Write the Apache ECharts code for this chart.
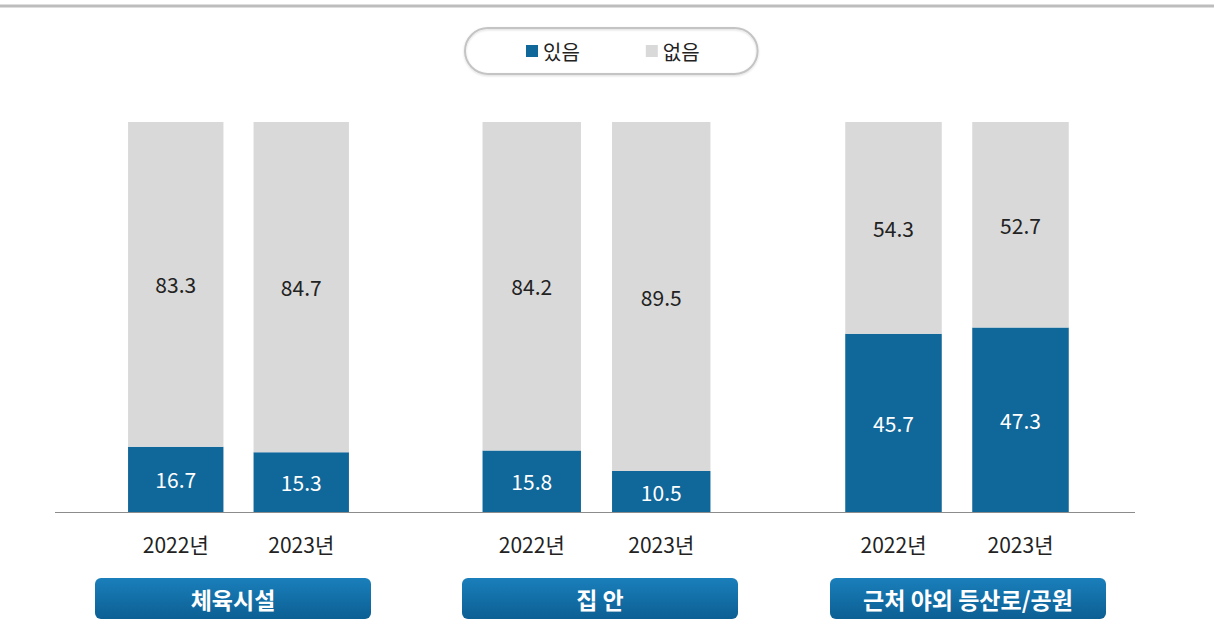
<!DOCTYPE html>
<html>
<head>
<meta charset="UTF-8">
<title>있음 / 없음</title>
<script src="https://cdn.jsdelivr.net/npm/echarts@6/dist/echarts.min.js"></script>
<style>
  html, body { margin: 0; padding: 0; background: #fff; }
  #chartmain { width: 1214px; height: 620px; }
</style>
</head>
<body>
<div id="chartmain"></div>
<script>
// data
var groups = ['체육시설', '집 안', '근처 야외 등산로/공원'];
var years = ['2022년', '2023년'];
var yesVals = [[16.7, 15.3], [15.8, 10.5], [45.7, 47.3]];
var noVals = [[83.3, 84.7], [84.2, 89.5], [54.3, 52.7]];
var seriesNames = ['있음', '없음'];

var FONT = "'Noto Sans CJK KR', 'Noto Sans', sans-serif";
var BLUE = '#10679a';
var GRAY = '#d9d9d9';

// one grid per group (left, right in px)
var gridPos = [[113, 364], [467, 726], [830, 1084]];
// label boxes under each group (left, width)
var boxPos = [[95, 276], [462, 276], [830, 276]];

var grids = [], xAxes = [], yAxes = [], series = [], graphics = [];

for (var i = 0; i < groups.length; i++) {
    grids.push({ left: gridPos[i][0], width: gridPos[i][1] - gridPos[i][0], top: 122, bottom: 108 });
    xAxes.push({
        type: 'category', gridIndex: i, data: years,
        axisLine: { show: false }, axisTick: { show: false },
        axisLabel: { margin: 21, fontSize: 21, color: '#222', fontFamily: FONT }
    });
    yAxes.push({ type: 'value', gridIndex: i, min: 0, max: 100, show: false });
    series.push({
        name: seriesNames[0], type: 'bar', stack: 'g' + i, xAxisIndex: i, yAxisIndex: i,
        barWidth: '76%', data: yesVals[i], itemStyle: { color: BLUE },
        label: { show: true, position: 'inside', color: '#fff', fontSize: 21, fontFamily: FONT }
    });
    series.push({
        name: seriesNames[1], type: 'bar', stack: 'g' + i, xAxisIndex: i, yAxisIndex: i,
        barWidth: '76%', data: noVals[i], itemStyle: { color: GRAY },
        label: { show: true, position: 'inside', color: '#222', fontSize: 21, fontFamily: FONT }
    });
    graphics.push({
        type: 'group', left: boxPos[i][0], top: 578,
        children: [
            { type: 'rect', shape: { x: 0, y: 0, width: boxPos[i][1], height: 41, r: 6 },
              style: { fill: new echarts.graphic.LinearGradient(0, 0, 0, 1, [
                  { offset: 0, color: '#1a7fbb' }, { offset: 1, color: '#0c5f93' }]) } },
            { type: 'text', x: boxPos[i][1] / 2, y: 21,
              style: { text: groups[i], fill: '#fff', font: 'bold 23px ' + FONT, textAlign: 'center', textVerticalAlign: 'middle' } }
        ]
    });
}

// top rule and baseline
graphics.push({ type: 'line', shape: { x1: 0, y1: 6, x2: 1214, y2: 6 }, style: { stroke: '#bdbdbd', lineWidth: 3 } });
graphics.push({ type: 'line', shape: { x1: 55, y1: 512.5, x2: 1135, y2: 512.5 }, style: { stroke: '#8c8c8c', lineWidth: 1 } });

var mychart = echarts.init(document.getElementById('chartmain'), null, { renderer: 'svg' });
mychart.setOption({
    animation: false,
    legend: {
        data: seriesNames, left: 465, top: 28,
        padding: [13, 58, 13, 61], itemGap: 66, itemWidth: 12, itemHeight: 12,
        borderColor: '#c4c4c4', borderWidth: 2, borderRadius: 24,
        shadowColor: 'rgba(0,0,0,0.15)', shadowBlur: 2, shadowOffsetY: 1,
        icon: 'rect', selectedMode: false,
        textStyle: { fontSize: 20, color: '#222', fontFamily: FONT }
    },
    grid: grids,
    xAxis: xAxes,
    yAxis: yAxes,
    series: series,
    graphic: graphics
});
</script>
</body>
</html>
